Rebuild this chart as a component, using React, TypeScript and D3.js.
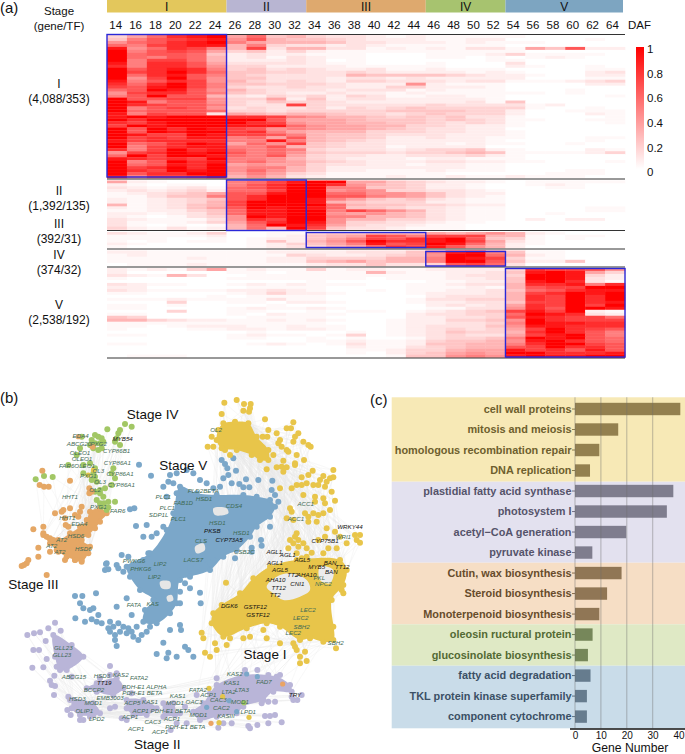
import React, { useEffect, useRef } from "react";
import * as d3 from "d3";

// ---------- panel (a) data, one hex digit per cell
const dafLabels = d3.range(14, 66, 2);
const heatI = [
  "47adef 7a56 43 32121111 100000", "59bcde 8b65 54 32221122 000010", "8abdef 9766 65 33222121 110000",
  "a9cdee 6943 32 32111111 000000", "e8adc9 6c36 63 31212133 175b22", "f9bcb7 4524 21 11111111 100000",
  "fabba5 2322 11 10001112 411110", "fa9ba6 2313 21 10001101 012100", "f9cca6 2223 20 10000001 100000",
  "e9ddb7 3333 21 10001000 300000", "d9ddb8 4422 22 11111000 210010", "fbded9 4534 32 23112111 000011",
  "fcdfda 5544 33 43222212 100023", "fadeb9 5433 33 65555432 210022", "f8cfb8 5533 32 33232222 200011",
  "e9bdc8 6434 32 44333233 111234", "dadfc9 5544 43 22282111 000022", "cbefc9 4334 33 22442221 000000",
  "abfeb8 6433 32 33312111 000100", "8cddb9 5432 23 22121111 110100", "9bfbb6 3243 42 43112211 000001",
  "fbbcc8 4472 52 33222221 000000", "fe9bb8 4354 43 22222231 500000", "fdcbb9 433c 43 33334333 312000",
  "f9bcb8 3433 42 43454444 410010", "fabbba 4434 44 44555544 200111", "e9cbb3 7656 65 44345444 200021",
  "efefff ddc9 86 65454533 100001", "fdffff ffb7 77 65554543 110011", "dcefff fdc8 77 66554343 100001",
  "cfefff eeea 87 76644322 100000", "fbfdfe cb89 87 76543322 000000", "fbfeff cd97 66 64443322 100000",
  "feccfe ccb9 65 54333222 100000", "fcdcee 9a7b 65 54223221 100011", "ecdddd 99e9 65 43222221 000010",
  "fabdfe 7a8c 54 33222121 100100", "f9cdee 99b6 54 33122220 000000", "d9cfde a9a9 43 33234452 100021",
  "8cdfef b9a8 54 44344565 111124", "afcffe a9b7 43 32233342 100000", "edcdcf 9986 43 22212211 100000",
  "f9bfde 9a87 54 32223322 110001", "fabedf 7877 43 32212211 000000", "fcdfdf 8996 42 22222211 000000",
  "fdcfef 8a86 42 21112111 000110", "fbddff 7974 31 11111000 001110", "e9ccdf 6863 21 11211211 211100",
];
const heatII = [
  "721000 9ace ff 77543221 011111", "210110 9bdf fd 86542210 012100", "321231 abdf f9 95542210 001100",
  "232342 aacf f8 98443321 000000", "123457 bbef fa a8875322 000000", "113559 bdff fb b9875321 000000",
  "212345 bdff e9 75453211 000000", "212346 cfff e6 54442211 000000", "612356 cfff fa 65544322 000000",
  "212357 bfef ea 55433211 000011", "112245 aeef f9 ca863211 000011", "221235 aeef f8 78653211 001000",
  "210134 8fef f9 96653211 000000", "321113 8dcf f8 66443211 020220", "311124 7bdf e8 44332110 000000",
  "310101 6afe d7 43321100 000000", "421312 6a6f c5 33211100 000000",
];
const heatIII = [
  "321124 0011 45 56667678 621000", "111112 0012 56 7cb9ccc6 610110", "111001 0122 57 9cbdefb5 410100",
  "101011 0152 68 bfddefc7 310000", "210000 0124 57 9ebcfea6 210000", "100000 0123 46 7adceb86 200000",
];
const heatIV = [
  "221111 1122 22 33359ef9 511000", "121111 1114 32 23458ffa 621000", "111121 1122 44 44669fec 411000",
  "111111 1122 56 75669ffb 522500", "011121 1111 23 35334bca 300000",
];
const heatV = [
  "212147 1211 41 22112222 4dccb8", "200000 1101 11 16211223 5efe74", "321630 0111 11 11111233 4ffe42",
  "100000 1111 11 10111223 5ffe32", "000000 0000 10 00001122 5efd31", "321100 1212 11 10011233 6dde9d",
  "220000 0111 10 00011121 6bccff", "321111 2232 10 01011223 5abdee", "110000 1242 21 00012223 6cdfef",
  "000001 0111 10 00002333 6dcfdf", "111211 1131 10 00013344 6dcfdf", "000400 1102 21 00012233 5ccfde",
  "110100 0010 00 00002323 7dcfcf", "110000 1211 21 00001133 8dbffe", "000400 1100 10 11012345 cecf21",
  "110000 1021 11 00023344 afed32", "540000 0111 10 00022334 bedcca", "664322 1121 21 00122445 8fdccc",
  "111111 1111 10 00122334 9feedd", "110122 2112 11 00123335 8eeddd", "100011 2212 21 00123434 7cfdcb",
  "000000 0100 00 10123544 6dfdb9", "110000 1211 01 40123433 7cefb9", "000000 1100 10 10013445 9fefba",
  "000000 0000 11 21124556 8efdba", "110000 0121 01 31125566 9dffcb", "000000 0000 00 21134566 bcfddb",
  "000000 0000 00 11244677 ecdbeb", "000000 0000 00 10245787 ffddde", "011100 0000 00 00155898 efeeff",
];
const stageNames = ["I", "II", "III", "IV", "V"];
const stageColors = ["#e3c75c", "#b8b5d2", "#dea96e", "#a7c36f", "#7da5c1"];
const stageSpans = [[14, 24], [26, 32], [34, 44], [46, 52], [54, 64]];
const stageCounts = ["(4,088/353)", "(1,392/135)", "(392/31)", "(374/32)", "(2,538/192)"];
const colorbarTicks = [0, 0.2, 0.4, 0.6, 0.8, 1];

// ---------- panel (c) data
const termNames = [
  "cell wall proteins", "mitosis and meiosis", "homologous recombination repair", "DNA replication",
  "plastidial fatty acid synthase", "photosystem I", "acetyl\u2212CoA generation", "pyruvate kinase",
  "Cutin, wax biosynthesis", "Steroid biosynthesis", "Monoterpenoid biosynthesis",
  "oleosin ructural protein", "glucosinolate biosynthesis",
  "fatty acid degradation", "TKL protein kinase superfamily", "component cytochrome",
];
const geneNumbers = [40.7, 16.7, 9.4, 5.8, 38, 35.5, 19.8, 6.7, 18, 12.4, 9.4, 6.8, 5, 6, 4.6, 4.6];
const termGroups = [0, 0, 0, 0, 1, 1, 1, 1, 2, 2, 2, 3, 3, 4, 4, 4];
const groupBg = ["#f7e9b6", "#e3e1ef", "#f6dec5", "#dfe9c5", "#c9dce9"];
const groupBar = ["#93804f", "#7f7d8e", "#907655", "#76875a", "#667c8e"];
const groupText = ["#6e5f2e", "#55536a", "#674c2c", "#536a34", "#3b5065"];

// ---------- panel (b) data, layout units are 1/3 of a page pixel
type P = [number, number];
const greenNodes: P[] = [[375,1272],[395,1280],[322,1288],[360,1290],[355,1300],[350,1315],[345,1325],[360,1335],[285,1305],[295,1310],[305,1315],[275,1320],[285,1330],[300,1330],[310,1325],[270,1335],[280,1345],[295,1350],[305,1345],[245,1310],[240,1345],[230,1365],[205,1395],[250,1395],[270,1390],[285,1405],[340,1405],[335,1420],[345,1435],[335,1455],[315,1465],[300,1470],[285,1475],[300,1480],[310,1490],[290,1445],[285,1430],[275,1440],[280,1420],[250,1420],[132,1428],[158,1431],[107,1438],[345,1505],[325,1505],[320,1530],[305,1520],[325,1522],[290,1500],[300,1510],[312,1510]];
const orangeNodes: P[] = [[127,1412],[119,1455],[132,1460],[146,1460],[210,1442],[268,1465],[275,1475],[268,1480],[190,1530],[210,1525],[185,1535],[165,1540],[245,1520],[240,1535],[195,1555],[225,1545],[205,1580],[130,1580],[100,1588],[130,1600],[140,1610],[150,1615],[160,1620],[170,1625],[115,1643],[150,1655],[170,1650],[115,1670],[85,1680],[80,1690],[65,1698],[72,1695],[197,1575],[195,1680],[225,1680],[245,1680],[140,1725],[235,1550],[278,1340]];
const orangeCore: P[] = [[270,1535],[300,1525],[320,1540],[300,1565],[285,1585],[265,1605],[245,1620],[270,1640],[265,1660],[245,1685],[225,1680],[200,1670],[175,1655],[150,1630],[130,1605],[175,1620],[210,1600],[240,1580],[260,1560]];
const blueNodes: P[] = [[417,1394],[453,1427],[510,1425],[530,1420],[505,1445],[520,1450],[490,1460],[500,1490],[530,1480],[403,1525],[390,1528],[408,1578],[440,1575],[430,1610],[455,1610],[470,1600],[490,1580],[320,1690],[365,1665],[385,1670],[430,1680],[445,1660],
  [665,1380],[675,1392],[700,1375],[682,1405],[708,1412],[670,1435],[685,1425],[695,1450],[738,1438],[775,1440],[817,1442],[718,1452],[730,1462],[748,1462],[815,1470],[825,1485],[835,1505],[810,1580],[783,1620],[785,1637],[755,1643],[755,1655],[705,1675],[690,1630],[560,1410],[580,1420],[600,1440],[620,1450],[640,1465],[660,1460],
  [318,1692],[350,1695],[325,1708],[315,1710],[370,1715],[355,1705],[225,1788],[247,1788],[288,1780],[240,1810],[250,1825],[270,1830],[280,1825],[226,1855],[255,1865],[295,1845],[275,1858],[290,1865],[305,1870],[330,1865],[340,1880],[325,1885],[330,1895],[355,1870],[395,1845],[385,1885],[360,1895],[380,1900],[400,1910],[415,1920],[345,1920],[350,1938],[490,1928],[470,1962],[505,1958],[500,1975],[530,1970],[510,1890],[540,1875],[555,1940],[565,1950],[380,1795],[350,1820],[450,1880],[440,1895],[425,1905],[395,1895],[345,1905],[370,1880],[410,1880],
  [555,1750],[570,1765],[540,1775],[600,1778],[540,1810],[602,1810],[543,1890],[580,1970],[610,1680],[640,1680],[630,1690],[590,1700],[570,1705]];
const blueCore: P[] = [[540,1460],[590,1480],[650,1485],[730,1485],[770,1490],[810,1500],[825,1520],[810,1550],[770,1580],[750,1610],[710,1650],[670,1670],[630,1710],[570,1730],[540,1740],[530,1810],[510,1840],[470,1870],[430,1865],[435,1830],[460,1800],[420,1770],[390,1730],[380,1700],[450,1660],[500,1590],[520,1540]];
const blueGaps: P[][] = [
  [[640,1525],[680,1525],[685,1540],[645,1545]],
  [[585,1640],[610,1630],[615,1650],[590,1660]],
  [[480,1745],[510,1745],[510,1765],[485,1765]],
  [[500,1790],[515,1785],[520,1800],[505,1805]],
];
const yellowNodes: P[] = [[673,1208],[710,1200],[732,1212],[752,1212],[730,1232],[747,1235],[750,1225],[665,1242],[795,1258],[880,1267],[860,1285],[873,1285],[805,1290],[830,1300],[885,1310],[895,1300],[880,1325],[910,1325],[925,1335],[932,1340],[635,1310],[623,1340],[640,1340],[788,1310],[802,1310],[840,1320],[835,1330],[845,1340],[820,1365],[860,1350],[865,1355],[890,1365],[912,1380],[850,1382],[885,1395],[830,1402],[800,1408],[845,1400],[860,1402],[850,1415],[938,1412],[1000,1410],[885,1390],[675,1350],[690,1365],
  [905,1432],[925,1425],[970,1428],[1000,1432],[990,1435],[960,1440],[890,1455],[905,1455],[920,1450],[940,1455],[955,1455],[975,1460],[980,1445],[995,1475],[875,1465],[840,1465],[910,1485],[945,1490],[945,1505],[970,1495],[975,1510],[1005,1502],[990,1530],[870,1525],[875,1535],[860,1555],[880,1560],[915,1540],[925,1550],[940,1540],[955,1545],[925,1565],[950,1565],[970,1540],[890,1600],[885,1610],[895,1620],[910,1630],[880,1630],[870,1620],[895,1640],[920,1645],[865,1645],[955,1620],[975,1610],[980,1585],[1005,1595],[1020,1610],[1040,1630],[1065,1605],[1080,1605],[1070,1620],[1080,1628],[970,1660],[985,1645],[1010,1645],[935,1658],[920,1670],[905,1675],[890,1660],
  [678,1748],[605,1898],[610,1915],[645,1930],[650,1950],[615,1958],[630,1970],[680,1935],[690,1915],[730,1915],[750,1910],[790,1890],[800,1915],[840,1930],[880,1930],[890,1950],[900,1970],[915,1955],[900,1990],[920,1983],[1008,1945],[885,1940],[1030,1780],[1025,1770],[1000,1880]];
const yellowCoreTop: P[] = [[670,1270],[705,1265],[745,1270],[770,1310],[805,1350],[805,1380],[780,1380],[755,1365],[710,1350],[665,1345],[650,1320],[655,1290]];
const yellowCoreLow: P[] = [[665,1815],[720,1780],[760,1735],[810,1700],[890,1680],[1020,1680],[1040,1710],[1030,1755],[995,1800],[1000,1920],[970,1925],[930,1915],[900,1920],[840,1880],[800,1870],[740,1885],[670,1910],[635,1870],[640,1840]];
const yellowGaps: P[][] = [
  [[830,1730],[870,1720],[920,1740],[930,1770],[900,1790],[850,1800],[820,1780],[800,1760]],
  [[960,1700],[1000,1710],[990,1750],[960,1740]],
];
const purpleNodes: P[] = [[165,1868],[145,1885],[120,1897],[102,1900],[82,1905],[182,1892],[137,1923],[100,1950],[117,1950],[97,2003],[130,2002],[140,1977],[170,2000],[163,2027],[150,2042],[155,2055],[165,2058],[162,2085],[205,2090],[210,2100],[330,1998],[350,2020],[330,2025],[300,2035],[340,2075],[215,2030],[202,2130],[212,2145],[240,2160],[250,2160],[270,2150],[280,2145],[345,2120],[330,2125],[365,2155],[380,2160],[490,2150],[395,2080],[512,2190],[530,2170],[540,2140],[555,2120],
  [772,2010],[735,2010],[650,2035],[805,2025],[840,2025],[880,2100],[905,2085],[892,2100],[875,2090],[785,2110],[805,2105],[825,2105],[795,2148],[810,2148],[825,2145],[845,2167],[805,2170],[772,2175],[745,2178],[750,2185],[695,2170],[670,2170],[655,2183],[605,2145],[560,2170],[590,2085]];
const purpleCores: P[][] = [
  [[160,1905],[215,1935],[250,1970],[200,2010],[180,2010],[165,1970]],
  [[290,2050],[350,2035],[370,2065],[340,2085],[290,2075],[260,2065]],
  [[220,2100],[280,2110],[300,2140],[240,2145],[215,2125]],
  [[380,2100],[430,2100],[470,2125],[440,2145],[400,2145],[380,2125]],
  [[490,2110],[520,2110],[525,2145],[495,2145]],
  [[650,2055],[730,2025],[830,2030],[870,2055],[875,2075],[820,2075],[790,2100],[730,2120],[710,2140],[650,2150],[600,2160],[580,2135],[610,2110],[630,2080]],
];
const strayNodes: [P, string][] = [
  [[235,1310],"#dea96e"],[[280,1410],"#e3c54a"],[[265,1425],"#e3c54a"],
  [[848,2052],"#eaa465"],[[633,2170],"#eaa465"],
  [[627,2065],"#e3c54a"],[[668,2090],"#e3c54a"],[[747,2152],"#e3c54a"],[[657,2168],"#e3c54a"],
  [[688,2102],"#7ba7c9"],[[620,2122],"#7ba7c9"],[[710,2135],"#7ba7c9"],[[740,2022],"#7ba7c9"],[[772,2030],"#7ba7c9"],
  [[732,2108],"#a2c765"],
];
const G = "#3f6b55", K = "#111111";
const netLabels: [string, number, number, string][] = [
  ["EDA4",242,1308,G],["ABCG20",237,1330,G],["PXG2",296,1330,G],["MYB54",368,1315,K],["OLEO1",240,1358,G],["OLEO1",246,1375,G],["CYP86B1",350,1352,G],["FAR6",200,1398,G],["OLEO1",254,1396,G],["CYP86A1",352,1387,G],["OL3",295,1412,G],["PXG1",265,1428,G],["CYP86A1",360,1422,G],["OL3",300,1445,G],["CYP86A1",364,1453,G],["OL2",285,1468,G],["HHT1",210,1490,G],["PXG1",295,1520,G],["FAR6",353,1533,G],["HHT1",202,1552,G],["EDA4",238,1570,G],["HSD6",228,1607,G],["AT2",185,1618,G],["AT2",155,1638,G],["AT2",180,1656,G],["HSD6",250,1647,G],
  ["PLC1",490,1489,G],["PLC1",502,1524,G],["SDP1L",476,1544,G],["FAB1D",550,1508,G],["PLC1",535,1557,G],["PWKG6",402,1681,G],["PHKG6",422,1706,G],["LIP2",480,1691,G],["LIP2",463,1730,G],["FATA",402,1813,G],["KAS",458,1811,G],
  ["OL2",648,1290,G],["PLD2BETA",610,1472,G],["HSD1",612,1495,G],["CDS4",702,1517,G],["HSD1",652,1568,G],["PKSB",637,1593,K],["HSD1",724,1597,G],["CLS",603,1623,G],["CYP73A5",687,1620,K],["CSB2C",733,1654,G],["LACS7",580,1678,G],
  ["ACC1",917,1510,G],["ACC1",888,1556,G],["WRKY44",1050,1581,K],["WRI1",1030,1610,G],["CYP75B1",975,1623,K],["AGL1",823,1656,K],["AGL1",863,1665,K],["AGL5",907,1680,K],["AGL1",825,1688,K],["MYB5",950,1701,K],["BAN",990,1689,K],["TT12",1027,1701,K],["AGL5",840,1710,K],
  ["TT2",878,1724,K],["AHA10",920,1724,K],["PKL",958,1732,G],["BAN",994,1716,K],["AHA10",827,1738,K],["CNI1",892,1752,K],["NPC2",970,1750,G],["TT12",836,1764,K],["TT2",826,1785,K],["DGK6",688,1818,K],["GSTF12",766,1820,K],["GSTF12",774,1845,K],["LEC2",924,1830,G],["LEC2",902,1854,G],["SBH2",905,1880,G],["LEC2",880,1898,G],["SBH2",1007,1927,G],
  ["KAS2",704,2022,G],["KAS1",695,2048,G],["LTA3",726,2070,G],["FAD7",792,2046,G],["FATA2",594,2068,G],["ACP1",625,2085,G],["LTA2",686,2076,G],["CAC3",655,2100,G],["MOD1",720,2104,G],["CAC2",664,2124,G],["KASIII",678,2146,G],["LPD1",745,2135,G],["TRY",885,2085,K],["OAC3",582,2104,G],["MOD1",595,2145,G],
  ["GLL23",190,1943,G],["GLL23",186,1964,G],["ABCG15",222,2031,G],["HSD3",306,2028,G],["KAS2",362,2025,G],["FATA2",417,2034,G],["TT19",313,2048,K],["PDH-E1 ALPHA",433,2059,G],["BCCP2",282,2070,G],["PDH-E1 BETA",427,2078,G],["EMB3003",330,2092,G],["KAS1",533,2086,G],["HSD3",232,2097,G],["MOD1",280,2109,G],["ACP5",397,2107,G],["KAS1",450,2106,G],["MOD1",525,2107,G],["OLIP1",253,2132,G],["ACP1",422,2132,G],["PDH-E1 BETA",512,2133,G],["LPD2",290,2157,G],["ACP1",390,2150,G],["CAC3",458,2164,G],["ACP1",516,2156,G],["ACP1",408,2187,G],["ACP1",480,2195,G],["PDH-E1 BETA",556,2180,G],
];
const stageLabels: [string, number, number][] = [["Stage IV",458,1242],["Stage V",550,1395],["Stage III",100,1752],["Stage II",472,2232],["Stage I",795,1963]];
const bundles: [P[], P[]][] = [
  [yellowCoreLow, purpleCores[5]], [yellowCoreLow, yellowCoreTop], [greenNodes, orangeCore], [purpleCores[0], purpleCores[1]],
  [purpleCores[1], purpleCores[2]], [purpleCores[3], purpleCores[5]], [purpleCores[3], purpleCores[1]], [yellowNodes, yellowCoreLow], [yellowNodes, yellowCoreTop],
  [purpleCores[4], purpleCores[5]], [purpleNodes, purpleCores[2]],
];

const FONT = "'Liberation Sans', Arial, sans-serif";
const netX = d3.scaleLinear().domain([0, 2055]).range([0, 685]);
const netY = d3.scaleLinear().domain([0, 2262]).range([0, 754]);
const blob = d3.line<P>().x((d) => netX(d[0])).y((d) => netY(d[1])).curve(d3.curveCatmullRomClosed.alpha(0.5));

const heatRows = [heatI, heatII, heatIII, heatIV, heatV];
const heatBands = [[35, 178], [180.5, 229.5], [232, 248], [250.5, 266], [268, 357.5]];
const lineYs = [34.5, 179, 230.5, 249, 267, 358];
const boxYs = [[34.5, 177], [180, 230.5], [232.5, 247.5], [251.5, 266], [268.5, 357]];
const labelYs = [[84, 99], [191, 206], [224, 239], [254.5, 269.5], [305, 320]];

function Heatmap() {
  const barAxis = useRef<SVGGElement>(null);
  const cols = d3.scaleBand<number>().domain(dafLabels).range([107, 625]);
  const tickX = d3.scaleLinear().domain([14, 64]).range([115.7, 612.5]);
  const color = d3.scalePow<string>().exponent(1.35).domain([0, 15]).range(["#ffffff", "#ff0000"]);
  const barY = d3.scaleLinear().domain([0, 1]).range([172, 49]);

  useEffect(() => {
    const g = d3.select(barAxis.current).call(d3.axisRight(barY).tickValues(colorbarTicks).tickSize(0).tickFormat((d) => String(d)) as any);
    g.select(".domain").remove();
    g.selectAll("text").attr("x", 0).attr("font-family", FONT).attr("font-size", 11.5).attr("fill", "#111");
  }, []);

  return (
    <g fontFamily={FONT} fill="#111">
      <text x={0} y={13} fontSize={15}>(a)</text>
      <text x={59} y={15} fontSize={11.5} textAnchor="middle">Stage</text>
      <text x={59} y={30} fontSize={11.5} textAnchor="middle">(gene/TF)</text>

      {stageNames.map((s, i) => {
        const x0 = cols(stageSpans[i][0])!;
        const x1 = cols(stageSpans[i][1])! + cols.bandwidth();
        return (
          <g key={s}>
            <rect x={x0} y={0} width={Math.min(x1, 623) - x0} height={12.5} fill={stageColors[i]} />
            <text x={(x0 + Math.min(x1, 623)) / 2} y={11} fontSize={12} textAnchor="middle">{s}</text>
          </g>
        );
      })}
      {dafLabels.map((d) => (
        <text key={d} x={tickX(d)} y={29} fontSize={11.5} textAnchor="middle">{d}</text>
      ))}
      <text x={628} y={29} fontSize={11.5}>DAF</text>

      {heatRows.map((rows, b) => {
        const y = d3.scaleBand<number>().domain(d3.range(rows.length)).range(heatBands[b] as [number, number]);
        return rows.map((row, r) =>
          row.replace(/ /g, "").split("").map((c, i) => (
            <rect key={`${b}-${r}-${i}`} x={cols(dafLabels[i])} y={y(r)} width={cols.bandwidth() + 0.3} height={y.bandwidth() + 0.3} fill={color(parseInt(c, 16))} />
          ))
        );
      })}

      {lineYs.map((y, i) => (
        <line key={i} x1={107} x2={625} y1={y} y2={y} stroke="#333" strokeWidth={1} />
      ))}
      {stageNames.map((s, i) => {
        const x0 = cols(stageSpans[i][0])!;
        const x1 = cols(stageSpans[i][1])! + cols.bandwidth();
        return <rect key={s} x={x0} y={boxYs[i][0]} width={x1 - x0} height={boxYs[i][1] - boxYs[i][0]} fill="none" stroke="#2a28d8" strokeWidth={1.4} />;
      })}
      {stageNames.map((s, i) => (
        <g key={s} fontSize={12} textAnchor="middle">
          <text x={59} y={labelYs[i][0] + 4}>{s}</text>
          <text x={59} y={labelYs[i][1] + 4}>{stageCounts[i]}</text>
        </g>
      ))}

      <defs>
        <linearGradient id="cbar" x1="0" x2="0" y1="0" y2="1">
          <stop offset="0" stopColor="#ff0000" />
          <stop offset="1" stopColor="#ffffff" />
        </linearGradient>
      </defs>
      <rect x={636} y={47} width={8} height={122} fill="url(#cbar)" />
      <g ref={barAxis} transform="translate(647,0)" />
    </g>
  );
}

function Nodes({ pts, fill }: { pts: P[]; fill: string }) {
  return (
    <g fill={fill}>
      {pts.map((p, i) => (
        <circle key={i} cx={netX(p[0])} cy={netY(p[1])} r={3} />
      ))}
    </g>
  );
}

function Network() {
  const edges: P[][] = [];
  bundles.forEach(([a, b]) => {
    a.forEach((p, i) => {
      edges.push([p, b[(i * 7) % b.length]]);
      edges.push([p, b[(i * 3 + 2) % b.length]]);
    });
  });
  const blobs: [P[], string][] = [
    [orangeCore, "#e5a765"], [blueCore, "#7ba7c9"], [yellowCoreTop, "#e8c54a"], [yellowCoreLow, "#e8c54a"],
    ...purpleCores.map((c) => [c, "#b9b5d8"] as [P[], string]),
  ];
  const gap = d3.line<P>().x((d) => netX(d[0])).y((d) => netY(d[1])).curve(d3.curveCatmullRomClosed);
  return (
    <g fontFamily={FONT}>
      <text x={0} y={403} fontSize={15} fill="#111">(b)</text>
      <g stroke="#e2e2e2" strokeWidth={0.3} opacity={0.7}>
        {edges.map((e, i) => (
          <line key={i} x1={netX(e[0][0])} y1={netY(e[0][1])} x2={netX(e[1][0])} y2={netY(e[1][1])} />
        ))}
      </g>
      {blobs.map(([pts, fill], i) => (
        <g key={i}>
          <path d={blob(pts)!} fill={fill} />
          <Nodes pts={pts} fill={fill} />
        </g>
      ))}
      <g fill="#e6e6e6">
        {blueGaps.map((c, i) => <path key={i} d={gap(c)!} />)}
      </g>
      <g fill="#ececec">
        {yellowGaps.map((c, i) => <path key={i} d={gap(c)!} />)}
      </g>
      <Nodes pts={greenNodes} fill="#a2c765" />
      <Nodes pts={orangeNodes} fill="#e5a765" />
      <Nodes pts={blueNodes} fill="#7ba7c9" />
      <Nodes pts={yellowNodes} fill="#e8c54a" />
      <Nodes pts={purpleNodes} fill="#b9b5d8" />
      {strayNodes.map(([p, c], i) => (
        <circle key={i} cx={netX(p[0])} cy={netY(p[1])} r={2.6} fill={c} />
      ))}
      <g fontSize={6.2} fontStyle="italic" textAnchor="middle">
        {netLabels.map(([t, x, y, c], i) => (
          <text key={i} x={netX(x)} y={netY(y) + 2.2} fill={c}>{t}</text>
        ))}
      </g>
      <g fontSize={13.5} textAnchor="middle" fill="#111">
        {stageLabels.map(([t, x, y]) => (
          <text key={t} x={netX(x)} y={netY(y) + 4.7}>{t}</text>
        ))}
      </g>
    </g>
  );
}

function BarPanel() {
  const axisRef = useRef<SVGGElement>(null);
  const x = d3.scaleLinear().domain([0, 40]).range([575, 678.5]);
  const y = d3.scalePoint<string>().domain(termNames).range([409, 716.6]);
  const groupTops = [397.3, 481.7, 562.7, 624.3, 665.7, 728.3];

  useEffect(() => {
    const g = d3.select(axisRef.current).call(d3.axisBottom(x).tickValues([0, 10, 20, 30, 40]).tickSize(0).tickPadding(3) as any);
    g.select(".domain").remove();
    g.selectAll("text").attr("font-family", FONT).attr("font-size", 10).attr("fill", "#111");
  }, []);

  return (
    <g fontFamily={FONT}>
      <text x={370} y={405} fontSize={15} fill="#111">(c)</text>
      {groupBg.map((c, i) => (
        <rect key={i} x={391.7} y={groupTops[i]} width={293.3} height={groupTops[i + 1] - groupTops[i]} fill={c} />
      ))}
      {termNames.map((t, i) => (
        <g key={t}>
          <rect x={x(0)} y={y(t)! - 6.2} width={x(geneNumbers[i]) - x(0)} height={12.4} fill={groupBar[termGroups[i]]} />
          <text x={571.5} y={y(t)! + 3.7} fontSize={10.9} fontWeight="bold" textAnchor="end" fill={groupText[termGroups[i]]}>{t}</text>
          <line x1={572} x2={575} y1={y(t)} y2={y(t)} stroke={groupText[termGroups[i]]} strokeWidth={0.8} />
        </g>
      ))}
      {[0, 10, 20, 30].map((v) => (
        <line key={v} x1={x(v)} x2={x(v)} y1={397.3} y2={728.3} stroke="#6e6e6e" strokeOpacity={0.35} strokeWidth={1.3} />
      ))}
      <line x1={570} x2={685} y1={729} y2={729} stroke="#111" strokeWidth={1.5} />
      <g ref={axisRef} transform="translate(0,729)" />
      <text x={630} y={751.5} fontSize={12.2} textAnchor="middle" fill="#111">Gene Number</text>
    </g>
  );
}

export default function App() {
  return (
    <svg width={685} height={754} style={{ position: "absolute", left: 0, top: 0 }}>
      <rect width={685} height={754} fill="#fff" />
      <Heatmap />
      <Network />
      <BarPanel />
    </svg>
  );
}
